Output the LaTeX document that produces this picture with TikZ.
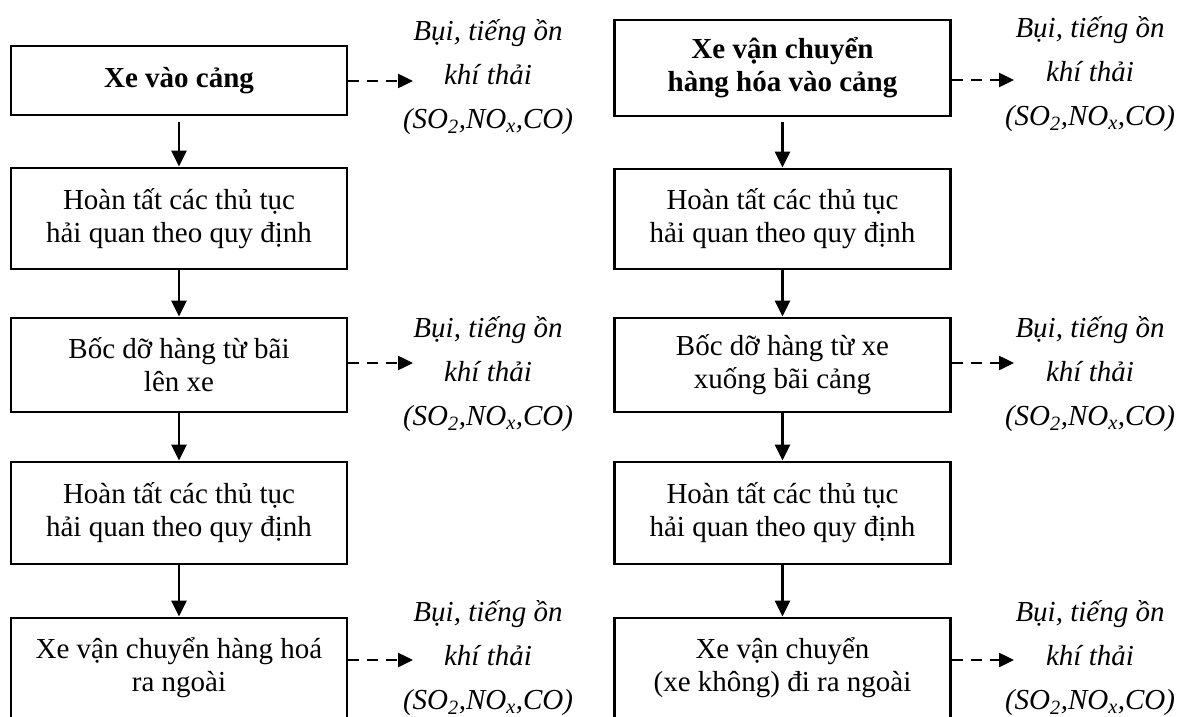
\documentclass[tikz,border=0pt]{standalone}
\usepackage{fontspec}
\setmainfont{Liberation Serif}
\usetikzlibrary{arrows.meta}

\tikzset{
  stepbox/.style={draw, line width=2.9pt, inner sep=0pt, align=center,
    minimum width=336pt, font=\fontsize{29}{33}\selectfont},
  flow/.style={line width=2.5pt, -{Triangle[length=16pt,width=15pt]}},
  emit/.style={line width=2.5pt, dash pattern=on 11pt off 8pt,
    -{Triangle[length=15pt,width=14pt]}},
  waste/.style={align=center, inner sep=0pt,
    font=\fontsize{29}{44}\selectfont\itshape},
}

\newcommand{\emission}{Bụi, tiếng ồn\\khí thải\\(SO\textsubscript{2},NO\textsubscript{x},CO)}

\begin{document}
\begin{tikzpicture}[x=1pt, y=-1pt]
  \useasboundingbox (0,0) rectangle (1187,717);
  \clip (0,0) rectangle (1187,717);

  % export flow (left column)
  \node[stepbox, minimum height=69pt]  (l1) at (179,80.5) {\textbf{Xe vào cảng}};
  \node[stepbox, minimum height=101pt] (l2) at (179,218.5) {Hoàn tất các thủ tục\\hải quan theo quy định};
  \node[stepbox, minimum height=94pt]  (l3) at (179,365) {Bốc dỡ hàng từ bãi\\lên xe};
  \node[stepbox, minimum height=102pt] (l4) at (179,513) {Hoàn tất các thủ tục\\hải quan theo quy định};
  \node[stepbox, minimum height=100pt] (l5) at (179,668) {Xe vận chuyển hàng hoá\\ra ngoài};

  % import flow (right column)
  \node[stepbox, minimum height=96pt]  (r1) at (782.5,68) {\textbf{Xe vận chuyển}\\\textbf{hàng hóa vào cảng}};
  \node[stepbox, minimum height=100pt] (r2) at (782.5,219) {Hoàn tất các thủ tục\\hải quan theo quy định};
  \node[stepbox, minimum height=94pt]  (r3) at (782.5,365) {Bốc dỡ hàng từ xe\\xuống bãi cảng};
  \node[stepbox, minimum height=102pt] (r4) at (782.5,513) {Hoàn tất các thủ tục\\hải quan theo quy định};
  \node[stepbox, minimum height=100pt] (r5) at (782.5,668) {Xe vận chuyển\\(xe không) đi ra ngoài};

  % emissions
  \node[waste] (el1) at (488,77)  {\emission};
  \node[waste] (el3) at (488,374) {\emission};
  \node[waste] (el5) at (488,658) {\emission};
  \node[waste] (er1) at (1090,74)  {\emission};
  \node[waste] (er3) at (1090,374) {\emission};
  \node[waste] (er5) at (1090,658) {\emission};

  % dashed arrow tips
  \coordinate (tl1) at (413,81);
  \coordinate (tl3) at (413,363);
  \coordinate (tl5) at (413,660);
  \coordinate (tr1) at (1014,80);
  \coordinate (tr3) at (1014,363);
  \coordinate (tr5) at (1014,660);

  % process arrows
  \draw[flow, shorten <=6pt] (l1.south) -- (l2.north);
  \draw[flow] (l2.south) -- (l3.north);
  \draw[flow] (l3.south) -- (l4.north);
  \draw[flow] (l4.south) -- (l5.north);
  \draw[flow, shorten <=5pt] (r1.south) -- (r2.north);
  \draw[flow] (r2.south) -- (r3.north);
  \draw[flow] (r3.south) -- (r4.north);
  \draw[flow] (r4.south) -- (r5.north);

  % emission arrows
  \draw[emit] (l1.east |- tl1) -- (tl1);
  \draw[emit] (l3.east |- tl3) -- (tl3);
  \draw[emit] (l5.east |- tl5) -- (tl5);
  \draw[emit] (r1.east |- tr1) -- (tr1);
  \draw[emit] (r3.east |- tr3) -- (tr3);
  \draw[emit] (r5.east |- tr5) -- (tr5);
\end{tikzpicture}
\end{document}
